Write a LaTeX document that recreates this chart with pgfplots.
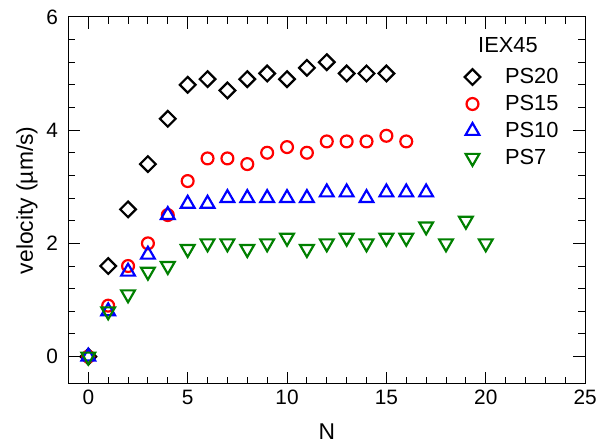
\documentclass[border=0pt]{standalone}
\usepackage{fontspec}
\setmainfont{Liberation Sans}
\usepackage{pgfplots}
\pgfplotsset{compat=1.18}
\definecolor{pgreen}{RGB}{0,128,0}
\begin{document}
\begin{tikzpicture}
\begin{axis}[
  scale only axis, width=521bp, height=370bp,
  xmin=-1, xmax=25, ymin=-0.48, ymax=6,
  xtick={0,5,...,25}, ytick={0,2,4,6},
  minor x tick num=4, minor y tick num=4,
  tick align=inside, major tick length=12bp, minor tick length=7bp,
  axis line style={line width=1.2bp},
  every tick/.style={line width=1bp, black},
  /pgf/number format/assume math mode=true,
  tick label style={font=\fontsize{21bp}{25bp}\selectfont},
  yticklabel style={xshift=-7bp},
  xticklabel style={yshift=-3bp},
  xlabel={N}, ylabel={velocity (µm/s)},
  xlabel style={at={(axis description cs:0.5,-0.108)}, anchor=north, inner sep=0pt,
    font=\fontsize{23bp}{27bp}\selectfont},
  ylabel style={at={(axis description cs:-0.069,0.5)}, anchor=base, rotate=0,
    font=\fontsize{23bp}{27bp}\selectfont},
  legend cell align=left,
  legend style={draw=none, fill=none, at={(rel axis cs:0.7607,0.87)}, anchor=north west,
    font=\fontsize{22bp}{26bp}\selectfont, row sep=6.3bp, column sep=23bp,
    nodes={inner sep=2bp}},
  every axis plot/.append style={only marks, line width=2.2bp},
]
\addplot[black, mark=square, mark size=5.6bp, mark options={rotate=45}] coordinates {
(0,0) (1,1.6) (2,2.6) (3,3.4) (4,4.2) (5,4.8) (6,4.9) (7,4.7) (8,4.9) (9,5.0)
(10,4.9) (11,5.1) (12,5.2) (13,5.0) (14,5.0) (15,5.0)};
\addlegendentry{PS20}
\addplot[red, mark=o, mark size=6bp] coordinates {
(0,0) (1,0.9) (2,1.6) (3,2.0) (4,2.5) (5,3.1) (6,3.5) (7,3.5) (8,3.4) (9,3.6)
(10,3.7) (11,3.6) (12,3.8) (13,3.8) (14,3.8) (15,3.9) (16,3.8)};
\addlegendentry{PS15}
\addplot[blue, mark=triangle, mark size=8bp] coordinates {
(0,0) (1,0.8) (2,1.5) (3,1.8) (4,2.5) (5,2.7) (6,2.7) (7,2.8) (8,2.8) (9,2.8)
(10,2.8) (11,2.8) (12,2.9) (13,2.9) (14,2.8) (15,2.9) (16,2.9) (17,2.9)};
\addlegendentry{PS10}
\addplot[pgreen, mark=triangle, mark size=8bp, mark options={rotate=180}] coordinates {
(0,0) (1,0.8) (2,1.1) (3,1.5) (4,1.6) (5,1.9) (6,2.0) (7,2.0) (8,1.9) (9,2.0)
(10,2.1) (11,1.9) (12,2.0) (13,2.1) (14,2.0) (15,2.1) (16,2.1) (17,2.3) (18,2.0)
(19,2.4) (20,2.0)};
\addlegendentry{PS7}
\node[anchor=west, inner sep=0pt, font=\fontsize{22bp}{26bp}\selectfont] at (rel axis cs:0.7927,0.9243) {IEX45};
\end{axis}
\path[use as bounding box] ([xshift=-69bp,yshift=-61bp]current axis.south west) rectangle ([xshift=10bp,yshift=17bp]current axis.north east);
\end{tikzpicture}
\end{document}
